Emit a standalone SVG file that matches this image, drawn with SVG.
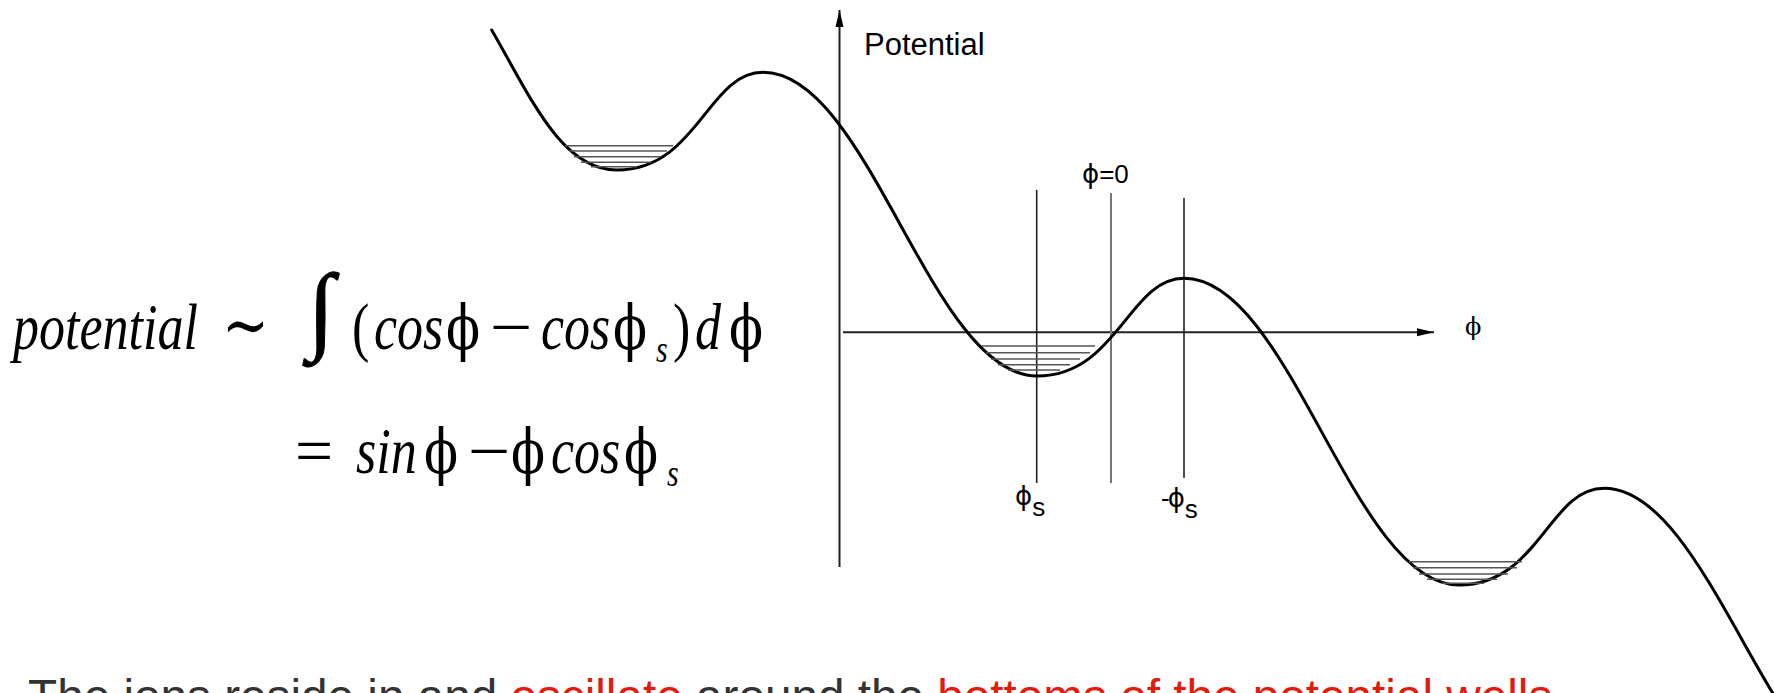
<svg xmlns="http://www.w3.org/2000/svg" width="1774" height="693" viewBox="0 0 1774 693">
<style>
.curve{fill:none;stroke:#000;stroke-width:3;stroke-linecap:round;stroke-linejoin:round}
.axis{fill:none;stroke:#222;stroke-width:2}
.vline{fill:none;stroke:#222;stroke-width:1.6}
.zero{fill:none;stroke:#777;stroke-width:2}
.lvl{stroke:#555;stroke-width:1.5}
.lab{font-family:"Liberation Sans",Arial,sans-serif;fill:#000}
.phl{font-family:"DejaVu Sans",sans-serif}
.math{font-family:"Liberation Serif","Times New Roman",serif;fill:#000;font-size:52px}
.ph{font-family:"DejaVu Serif",serif;font-size:50px}
.it{font-style:italic}
.sub{font-size:30px}
.body{font-family:"Liberation Sans",Arial,sans-serif;font-size:47.7px;fill:#333}
.red{fill:#e31b0c}
</style>
<defs>
<marker id="ah" markerWidth="18" markerHeight="10" refX="17" refY="5" orient="auto" markerUnits="userSpaceOnUse">
<path d="M0,1 L17,5 L0,9 Z" fill="#000"/>
</marker>
</defs>
<rect width="1774" height="693" fill="#fff"/>

<g id="connectors">
<line id="v-axis" class="axis" x1="839.5" y1="567" x2="839.5" y2="10" marker-end="url(#ah)"/>
<line id="h-axis" class="axis" x1="843" y1="332.3" x2="1434" y2="332.3" marker-end="url(#ah)"/>
<line class="vline" x1="1036.7" y1="190" x2="1036.7" y2="483"/>
<line class="zero" x1="1111" y1="193" x2="1111" y2="483"/>
<line class="vline" x1="1184" y1="198" x2="1184" y2="478"/>
</g>

<g id="potential-curve">
<path class="curve" d="M491.7,30 C531.7,99.6 562,170 617,170 C697,170 708,72.3 763,72.3 C869,72.3 931,376 1037,376 C1117,376 1129,278.3 1184,278.3 C1290,278.3 1353,585 1459,585 C1539,585 1549,488.3 1604,488.3 C1710,488.3 1774,791 1880,791"/>
</g>

<g id="well-left">
<line class="lvl" x1="565" y1="145.7" x2="673" y2="145.7"/>
<line class="lvl" x1="569" y1="151" x2="667" y2="151"/>
<line class="lvl" x1="574" y1="156.7" x2="660" y2="156.7"/>
<line class="lvl" x1="581" y1="162.3" x2="651" y2="162.3"/>
<line class="lvl" x1="591" y1="166.7" x2="637" y2="166.7"/>
</g>
<g id="well-center">
<line class="lvl" x1="982" y1="346" x2="1095" y2="346"/>
<line class="lvl" x1="986" y1="352.7" x2="1090" y2="352.7"/>
<line class="lvl" x1="991" y1="359" x2="1080" y2="359"/>
<line class="lvl" x1="998" y1="364.7" x2="1070" y2="364.7"/>
<line class="lvl" x1="1008" y1="370" x2="1060" y2="370"/>
</g>
<g id="well-right">
<line class="lvl" x1="1409" y1="561.7" x2="1522" y2="561.7"/>
<line class="lvl" x1="1413" y1="567.7" x2="1517" y2="567.7"/>
<line class="lvl" x1="1419" y1="574" x2="1508" y2="574"/>
<line class="lvl" x1="1427" y1="579.3" x2="1497" y2="579.3"/>
<line class="lvl" x1="1441" y1="583.3" x2="1484" y2="583.3"/>
</g>

<g id="label-potential"><text class="lab" x="864" y="55" font-size="31">Potential</text></g>
<g id="label-phi-axis"><text x="1465" y="335" font-family="DejaVu Serif, serif" font-size="24">ϕ</text></g>
<g id="label-phi0"><text class="lab" x="1082" y="183" font-size="26"><tspan class="phl">ϕ</tspan>=0</text></g>
<g id="label-phis"><text class="lab" x="1015" y="505" font-size="26"><tspan class="phl">ϕ</tspan><tspan dy="11">s</tspan></text></g>
<g id="label-mphis"><text class="lab" x="1161" y="507" font-size="26">-<tspan class="phl" dx="-2">ϕ</tspan><tspan dy="11">s</tspan></text></g>

<g id="formula-1">
<g transform="translate(0,349) scale(1,1.25)">
<text class="math it" x="13" y="0">potential</text>
<text x="222" y="0" font-family="DejaVu Serif, serif" font-size="56">∼</text>
<text class="math" x="352" y="0">(</text>
<text class="math it" x="374" y="0">cos</text>
<text class="math ph" x="446" y="0">ϕ</text>
<g transform="translate(490,0) scale(1.45,1)"><text class="math" x="0" y="0">−</text></g>
<text class="math it" x="541" y="0">cos</text>
<text class="math ph" x="613" y="0">ϕ</text>
<text class="math it sub" x="656" y="10">s</text>
<text class="math" x="673" y="0">)</text>
<text class="math it" x="695" y="0">d</text>
<text class="math ph" x="729" y="0">ϕ</text>
</g>
<text x="308" y="341" font-family="Liberation Serif, serif" font-size="97" stroke="#000" stroke-width="1">∫</text>
</g>

<g id="formula-2">
<g transform="translate(0,473) scale(1,1.25)">
<g transform="translate(295,0) scale(1.3,1)"><text class="math" x="0" y="0" font-size="58">=</text></g>
<text class="math it" x="356" y="0">sin</text>
<text class="math ph" x="424" y="0">ϕ</text>
<g transform="translate(468,0) scale(1.45,1)"><text class="math" x="0" y="0">−</text></g>
<text class="math ph" x="511" y="0">ϕ</text>
<text class="math it" x="551" y="0">cos</text>
<text class="math ph" x="624" y="0">ϕ</text>
<text class="math it sub" x="667" y="10">s</text>
</g>
</g>

<g id="caption">
<text class="body" x="28" y="712.7">The ions reside in and <tspan class="red">oscillate</tspan> around the <tspan class="red">bottoms of the potential wells</tspan></text>
</g>
</svg>
